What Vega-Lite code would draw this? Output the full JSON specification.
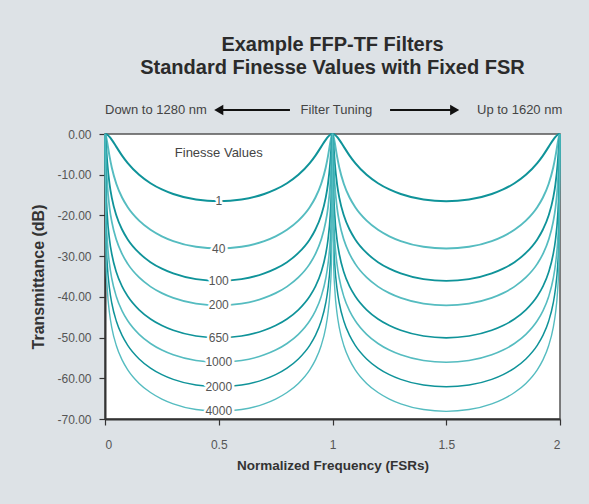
{
  "$schema": "https://vega.github.io/schema/vega-lite/v6.json",
  "width": 455,
  "height": 285,
  "autosize": {"type": "none"},
  "padding": {"left": 105, "top": 134, "right": 29, "bottom": 85},
  "background": "#dde2e6",
  "title": {
    "text": ["Example FFP-TF Filters", "Standard Finesse Values with Fixed FSR"],
    "font": "Liberation Sans",
    "fontSize": 20,
    "fontWeight": "bold",
    "color": "#2b2b2b",
    "lineHeight": 23,
    "anchor": "middle",
    "frame": "group",
    "offset": 26
  },
  "config": {
    "view": {"stroke": "#555", "strokeWidth": 1.5, "fill": "white"},
    "axis": {
      "grid": false,
      "domainColor": "#333",
      "domainWidth": 2,
      "tickColor": "#333",
      "tickWidth": 1.2,
      "tickSize": 6,
      "labelFont": "Liberation Sans",
      "labelFontSize": 12,
      "labelColor": "#555",
      "titleFont": "Liberation Sans",
      "titleFontWeight": "bold",
      "titleColor": "#333"
    },
    "axisX": {"labelPadding": 14, "titleFontSize": 13.5, "titlePadding": 8},
    "axisY": {"labelPadding": 8, "titleFontSize": 16, "titlePadding": 10}
  },
  "layer": [
    {
      "data": {"values": [
{"c":"1","x":0,"y":0},{"c":"1","x":0.005,"y":-0.05},{"c":"1","x":0.01,"y":-0.19},{"c":"1","x":0.02,"y":-0.7},{"c":"1","x":0.03,"y":-1.43},{"c":"1","x":0.05,"y":-3.17},{"c":"1","x":0.075,"y":-5.31},{"c":"1","x":0.1,"y":-7.16},{"c":"1","x":0.15,"y":-10.03},{"c":"1","x":0.2,"y":-12.1},{"c":"1","x":0.25,"y":-13.62},{"c":"1","x":0.3,"y":-14.74},{"c":"1","x":0.4,"y":-16.11},{"c":"1","x":0.5,"y":-16.53},{"c":"1","x":0.6,"y":-16.11},{"c":"1","x":0.7,"y":-14.74},{"c":"1","x":0.75,"y":-13.62},{"c":"1","x":0.8,"y":-12.1},{"c":"1","x":0.85,"y":-10.03},{"c":"1","x":0.9,"y":-7.16},{"c":"1","x":0.925,"y":-5.31},{"c":"1","x":0.95,"y":-3.17},{"c":"1","x":0.97,"y":-1.43},{"c":"1","x":0.98,"y":-0.7},{"c":"1","x":0.99,"y":-0.19},{"c":"1","x":0.995,"y":-0.05},{"c":"1","x":1,"y":0},{"c":"1","x":1.005,"y":-0.05},{"c":"1","x":1.01,"y":-0.19},{"c":"1","x":1.02,"y":-0.7},{"c":"1","x":1.03,"y":-1.43},{"c":"1","x":1.05,"y":-3.17},{"c":"1","x":1.075,"y":-5.31},{"c":"1","x":1.1,"y":-7.16},{"c":"1","x":1.15,"y":-10.03},{"c":"1","x":1.2,"y":-12.1},{"c":"1","x":1.25,"y":-13.62},{"c":"1","x":1.3,"y":-14.74},{"c":"1","x":1.4,"y":-16.11},{"c":"1","x":1.5,"y":-16.53},{"c":"1","x":1.6,"y":-16.11},{"c":"1","x":1.7,"y":-14.74},{"c":"1","x":1.75,"y":-13.62},{"c":"1","x":1.8,"y":-12.1},{"c":"1","x":1.85,"y":-10.03},{"c":"1","x":1.9,"y":-7.16},{"c":"1","x":1.925,"y":-5.31},{"c":"1","x":1.95,"y":-3.17},{"c":"1","x":1.97,"y":-1.43},{"c":"1","x":1.98,"y":-0.7},{"c":"1","x":1.99,"y":-0.19},{"c":"1","x":1.995,"y":-0.05},{"c":"1","x":2,"y":0},
{"c":"40","x":0,"y":0},{"c":"40","x":0.005,"y":-0.65},{"c":"40","x":0.01,"y":-2.15},{"c":"40","x":0.02,"y":-5.51},{"c":"40","x":0.03,"y":-8.29},{"c":"40","x":0.05,"y":-12.27},{"c":"40","x":0.075,"y":-15.6},{"c":"40","x":0.1,"y":-17.99},{"c":"40","x":0.15,"y":-21.29},{"c":"40","x":0.2,"y":-23.52},{"c":"40","x":0.25,"y":-25.12},{"c":"40","x":0.3,"y":-26.29},{"c":"40","x":0.4,"y":-27.69},{"c":"40","x":0.5,"y":-28.13},{"c":"40","x":0.6,"y":-27.69},{"c":"40","x":0.7,"y":-26.29},{"c":"40","x":0.75,"y":-25.12},{"c":"40","x":0.8,"y":-23.52},{"c":"40","x":0.85,"y":-21.29},{"c":"40","x":0.9,"y":-17.99},{"c":"40","x":0.925,"y":-15.6},{"c":"40","x":0.95,"y":-12.27},{"c":"40","x":0.97,"y":-8.29},{"c":"40","x":0.98,"y":-5.51},{"c":"40","x":0.99,"y":-2.15},{"c":"40","x":0.995,"y":-0.65},{"c":"40","x":1,"y":0},{"c":"40","x":1.005,"y":-0.65},{"c":"40","x":1.01,"y":-2.15},{"c":"40","x":1.02,"y":-5.51},{"c":"40","x":1.03,"y":-8.29},{"c":"40","x":1.05,"y":-12.27},{"c":"40","x":1.075,"y":-15.6},{"c":"40","x":1.1,"y":-17.99},{"c":"40","x":1.15,"y":-21.29},{"c":"40","x":1.2,"y":-23.52},{"c":"40","x":1.25,"y":-25.12},{"c":"40","x":1.3,"y":-26.29},{"c":"40","x":1.4,"y":-27.69},{"c":"40","x":1.5,"y":-28.13},{"c":"40","x":1.6,"y":-27.69},{"c":"40","x":1.7,"y":-26.29},{"c":"40","x":1.75,"y":-25.12},{"c":"40","x":1.8,"y":-23.52},{"c":"40","x":1.85,"y":-21.29},{"c":"40","x":1.9,"y":-17.99},{"c":"40","x":1.925,"y":-15.6},{"c":"40","x":1.95,"y":-12.27},{"c":"40","x":1.97,"y":-8.29},{"c":"40","x":1.98,"y":-5.51},{"c":"40","x":1.99,"y":-2.15},{"c":"40","x":1.995,"y":-0.65},{"c":"40","x":2,"y":0},
{"c":"100","x":0,"y":0},{"c":"100","x":0.005,"y":-3.01},{"c":"100","x":0.01,"y":-6.99},{"c":"100","x":0.02,"y":-12.3},{"c":"100","x":0.03,"y":-15.67},{"c":"100","x":0.05,"y":-20.01},{"c":"100","x":0.075,"y":-23.46},{"c":"100","x":0.1,"y":-25.89},{"c":"100","x":0.15,"y":-29.22},{"c":"100","x":0.2,"y":-31.47},{"c":"100","x":0.25,"y":-33.07},{"c":"100","x":0.3,"y":-34.24},{"c":"100","x":0.4,"y":-35.64},{"c":"100","x":0.5,"y":-36.08},{"c":"100","x":0.6,"y":-35.64},{"c":"100","x":0.7,"y":-34.24},{"c":"100","x":0.75,"y":-33.07},{"c":"100","x":0.8,"y":-31.47},{"c":"100","x":0.85,"y":-29.22},{"c":"100","x":0.9,"y":-25.89},{"c":"100","x":0.925,"y":-23.46},{"c":"100","x":0.95,"y":-20.01},{"c":"100","x":0.97,"y":-15.67},{"c":"100","x":0.98,"y":-12.3},{"c":"100","x":0.99,"y":-6.99},{"c":"100","x":0.995,"y":-3.01},{"c":"100","x":1,"y":0},{"c":"100","x":1.005,"y":-3.01},{"c":"100","x":1.01,"y":-6.99},{"c":"100","x":1.02,"y":-12.3},{"c":"100","x":1.03,"y":-15.67},{"c":"100","x":1.05,"y":-20.01},{"c":"100","x":1.075,"y":-23.46},{"c":"100","x":1.1,"y":-25.89},{"c":"100","x":1.15,"y":-29.22},{"c":"100","x":1.2,"y":-31.47},{"c":"100","x":1.25,"y":-33.07},{"c":"100","x":1.3,"y":-34.24},{"c":"100","x":1.4,"y":-35.64},{"c":"100","x":1.5,"y":-36.08},{"c":"100","x":1.6,"y":-35.64},{"c":"100","x":1.7,"y":-34.24},{"c":"100","x":1.75,"y":-33.07},{"c":"100","x":1.8,"y":-31.47},{"c":"100","x":1.85,"y":-29.22},{"c":"100","x":1.9,"y":-25.89},{"c":"100","x":1.925,"y":-23.46},{"c":"100","x":1.95,"y":-20.01},{"c":"100","x":1.97,"y":-15.67},{"c":"100","x":1.98,"y":-12.3},{"c":"100","x":1.99,"y":-6.99},{"c":"100","x":1.995,"y":-3.01},{"c":"100","x":2,"y":0},
{"c":"200","x":0,"y":0},{"c":"200","x":0.005,"y":-6.99},{"c":"200","x":0.01,"y":-12.3},{"c":"200","x":0.02,"y":-18.12},{"c":"200","x":0.03,"y":-21.6},{"c":"200","x":0.05,"y":-26},{"c":"200","x":0.075,"y":-29.47},{"c":"200","x":0.1,"y":-31.9},{"c":"200","x":0.15,"y":-35.24},{"c":"200","x":0.2,"y":-37.48},{"c":"200","x":0.25,"y":-39.09},{"c":"200","x":0.3,"y":-40.26},{"c":"200","x":0.4,"y":-41.66},{"c":"200","x":0.5,"y":-42.1},{"c":"200","x":0.6,"y":-41.66},{"c":"200","x":0.7,"y":-40.26},{"c":"200","x":0.75,"y":-39.09},{"c":"200","x":0.8,"y":-37.48},{"c":"200","x":0.85,"y":-35.24},{"c":"200","x":0.9,"y":-31.9},{"c":"200","x":0.925,"y":-29.47},{"c":"200","x":0.95,"y":-26},{"c":"200","x":0.97,"y":-21.6},{"c":"200","x":0.98,"y":-18.12},{"c":"200","x":0.99,"y":-12.3},{"c":"200","x":0.995,"y":-6.99},{"c":"200","x":1,"y":0},{"c":"200","x":1.005,"y":-6.99},{"c":"200","x":1.01,"y":-12.3},{"c":"200","x":1.02,"y":-18.12},{"c":"200","x":1.03,"y":-21.6},{"c":"200","x":1.05,"y":-26},{"c":"200","x":1.075,"y":-29.47},{"c":"200","x":1.1,"y":-31.9},{"c":"200","x":1.15,"y":-35.24},{"c":"200","x":1.2,"y":-37.48},{"c":"200","x":1.25,"y":-39.09},{"c":"200","x":1.3,"y":-40.26},{"c":"200","x":1.4,"y":-41.66},{"c":"200","x":1.5,"y":-42.1},{"c":"200","x":1.6,"y":-41.66},{"c":"200","x":1.7,"y":-40.26},{"c":"200","x":1.75,"y":-39.09},{"c":"200","x":1.8,"y":-37.48},{"c":"200","x":1.85,"y":-35.24},{"c":"200","x":1.9,"y":-31.9},{"c":"200","x":1.925,"y":-29.47},{"c":"200","x":1.95,"y":-26},{"c":"200","x":1.97,"y":-21.6},{"c":"200","x":1.98,"y":-18.12},{"c":"200","x":1.99,"y":-12.3},{"c":"200","x":1.995,"y":-6.99},{"c":"200","x":2,"y":0},
{"c":"650","x":0,"y":0},{"c":"650","x":0.005,"y":-14.15},{"c":"650","x":0.01,"y":-20.04},{"c":"650","x":0.02,"y":-26.03},{"c":"650","x":0.03,"y":-29.53},{"c":"650","x":0.05,"y":-33.95},{"c":"650","x":0.075,"y":-37.42},{"c":"650","x":0.1,"y":-39.86},{"c":"650","x":0.15,"y":-43.2},{"c":"650","x":0.2,"y":-45.44},{"c":"650","x":0.25,"y":-47.05},{"c":"650","x":0.3,"y":-48.22},{"c":"650","x":0.4,"y":-49.62},{"c":"650","x":0.5,"y":-50.06},{"c":"650","x":0.6,"y":-49.62},{"c":"650","x":0.7,"y":-48.22},{"c":"650","x":0.75,"y":-47.05},{"c":"650","x":0.8,"y":-45.44},{"c":"650","x":0.85,"y":-43.2},{"c":"650","x":0.9,"y":-39.86},{"c":"650","x":0.925,"y":-37.42},{"c":"650","x":0.95,"y":-33.95},{"c":"650","x":0.97,"y":-29.53},{"c":"650","x":0.98,"y":-26.03},{"c":"650","x":0.99,"y":-20.04},{"c":"650","x":0.995,"y":-14.15},{"c":"650","x":1,"y":0},{"c":"650","x":1.005,"y":-14.15},{"c":"650","x":1.01,"y":-20.04},{"c":"650","x":1.02,"y":-26.03},{"c":"650","x":1.03,"y":-29.53},{"c":"650","x":1.05,"y":-33.95},{"c":"650","x":1.075,"y":-37.42},{"c":"650","x":1.1,"y":-39.86},{"c":"650","x":1.15,"y":-43.2},{"c":"650","x":1.2,"y":-45.44},{"c":"650","x":1.25,"y":-47.05},{"c":"650","x":1.3,"y":-48.22},{"c":"650","x":1.4,"y":-49.62},{"c":"650","x":1.5,"y":-50.06},{"c":"650","x":1.6,"y":-49.62},{"c":"650","x":1.7,"y":-48.22},{"c":"650","x":1.75,"y":-47.05},{"c":"650","x":1.8,"y":-45.44},{"c":"650","x":1.85,"y":-43.2},{"c":"650","x":1.9,"y":-39.86},{"c":"650","x":1.925,"y":-37.42},{"c":"650","x":1.95,"y":-33.95},{"c":"650","x":1.97,"y":-29.53},{"c":"650","x":1.98,"y":-26.03},{"c":"650","x":1.99,"y":-20.04},{"c":"650","x":1.995,"y":-14.15},{"c":"650","x":2,"y":0},
{"c":"1000","x":0,"y":0},{"c":"1000","x":0.005,"y":-20.04},{"c":"1000","x":0.01,"y":-26.03},{"c":"1000","x":0.02,"y":-32.04},{"c":"1000","x":0.03,"y":-35.55},{"c":"1000","x":0.05,"y":-39.97},{"c":"1000","x":0.075,"y":-43.44},{"c":"1000","x":0.1,"y":-45.88},{"c":"1000","x":0.15,"y":-49.22},{"c":"1000","x":0.2,"y":-51.46},{"c":"1000","x":0.25,"y":-53.07},{"c":"1000","x":0.3,"y":-54.24},{"c":"1000","x":0.4,"y":-55.64},{"c":"1000","x":0.5,"y":-56.08},{"c":"1000","x":0.6,"y":-55.64},{"c":"1000","x":0.7,"y":-54.24},{"c":"1000","x":0.75,"y":-53.07},{"c":"1000","x":0.8,"y":-51.46},{"c":"1000","x":0.85,"y":-49.22},{"c":"1000","x":0.9,"y":-45.88},{"c":"1000","x":0.925,"y":-43.44},{"c":"1000","x":0.95,"y":-39.97},{"c":"1000","x":0.97,"y":-35.55},{"c":"1000","x":0.98,"y":-32.04},{"c":"1000","x":0.99,"y":-26.03},{"c":"1000","x":0.995,"y":-20.04},{"c":"1000","x":1,"y":0},{"c":"1000","x":1.005,"y":-20.04},{"c":"1000","x":1.01,"y":-26.03},{"c":"1000","x":1.02,"y":-32.04},{"c":"1000","x":1.03,"y":-35.55},{"c":"1000","x":1.05,"y":-39.97},{"c":"1000","x":1.075,"y":-43.44},{"c":"1000","x":1.1,"y":-45.88},{"c":"1000","x":1.15,"y":-49.22},{"c":"1000","x":1.2,"y":-51.46},{"c":"1000","x":1.25,"y":-53.07},{"c":"1000","x":1.3,"y":-54.24},{"c":"1000","x":1.4,"y":-55.64},{"c":"1000","x":1.5,"y":-56.08},{"c":"1000","x":1.6,"y":-55.64},{"c":"1000","x":1.7,"y":-54.24},{"c":"1000","x":1.75,"y":-53.07},{"c":"1000","x":1.8,"y":-51.46},{"c":"1000","x":1.85,"y":-49.22},{"c":"1000","x":1.9,"y":-45.88},{"c":"1000","x":1.925,"y":-43.44},{"c":"1000","x":1.95,"y":-39.97},{"c":"1000","x":1.97,"y":-35.55},{"c":"1000","x":1.98,"y":-32.04},{"c":"1000","x":1.99,"y":-26.03},{"c":"1000","x":1.995,"y":-20.04},{"c":"1000","x":2,"y":0},
{"c":"2000","x":0,"y":0},{"c":"2000","x":0.005,"y":-26.03},{"c":"2000","x":0.01,"y":-32.04},{"c":"2000","x":0.02,"y":-38.06},{"c":"2000","x":0.03,"y":-41.57},{"c":"2000","x":0.05,"y":-45.99},{"c":"2000","x":0.075,"y":-49.46},{"c":"2000","x":0.1,"y":-51.9},{"c":"2000","x":0.15,"y":-55.24},{"c":"2000","x":0.2,"y":-57.48},{"c":"2000","x":0.25,"y":-59.09},{"c":"2000","x":0.3,"y":-60.26},{"c":"2000","x":0.4,"y":-61.66},{"c":"2000","x":0.5,"y":-62.1},{"c":"2000","x":0.6,"y":-61.66},{"c":"2000","x":0.7,"y":-60.26},{"c":"2000","x":0.75,"y":-59.09},{"c":"2000","x":0.8,"y":-57.48},{"c":"2000","x":0.85,"y":-55.24},{"c":"2000","x":0.9,"y":-51.9},{"c":"2000","x":0.925,"y":-49.46},{"c":"2000","x":0.95,"y":-45.99},{"c":"2000","x":0.97,"y":-41.57},{"c":"2000","x":0.98,"y":-38.06},{"c":"2000","x":0.99,"y":-32.04},{"c":"2000","x":0.995,"y":-26.03},{"c":"2000","x":1,"y":0},{"c":"2000","x":1.005,"y":-26.03},{"c":"2000","x":1.01,"y":-32.04},{"c":"2000","x":1.02,"y":-38.06},{"c":"2000","x":1.03,"y":-41.57},{"c":"2000","x":1.05,"y":-45.99},{"c":"2000","x":1.075,"y":-49.46},{"c":"2000","x":1.1,"y":-51.9},{"c":"2000","x":1.15,"y":-55.24},{"c":"2000","x":1.2,"y":-57.48},{"c":"2000","x":1.25,"y":-59.09},{"c":"2000","x":1.3,"y":-60.26},{"c":"2000","x":1.4,"y":-61.66},{"c":"2000","x":1.5,"y":-62.1},{"c":"2000","x":1.6,"y":-61.66},{"c":"2000","x":1.7,"y":-60.26},{"c":"2000","x":1.75,"y":-59.09},{"c":"2000","x":1.8,"y":-57.48},{"c":"2000","x":1.85,"y":-55.24},{"c":"2000","x":1.9,"y":-51.9},{"c":"2000","x":1.925,"y":-49.46},{"c":"2000","x":1.95,"y":-45.99},{"c":"2000","x":1.97,"y":-41.57},{"c":"2000","x":1.98,"y":-38.06},{"c":"2000","x":1.99,"y":-32.04},{"c":"2000","x":1.995,"y":-26.03},{"c":"2000","x":2,"y":0},
{"c":"4000","x":0,"y":0},{"c":"4000","x":0.005,"y":-32.04},{"c":"4000","x":0.01,"y":-38.06},{"c":"4000","x":0.02,"y":-44.08},{"c":"4000","x":0.03,"y":-47.59},{"c":"4000","x":0.05,"y":-52.01},{"c":"4000","x":0.075,"y":-55.48},{"c":"4000","x":0.1,"y":-57.92},{"c":"4000","x":0.15,"y":-61.26},{"c":"4000","x":0.2,"y":-63.5},{"c":"4000","x":0.25,"y":-65.11},{"c":"4000","x":0.3,"y":-66.28},{"c":"4000","x":0.4,"y":-67.68},{"c":"4000","x":0.5,"y":-68.12},{"c":"4000","x":0.6,"y":-67.68},{"c":"4000","x":0.7,"y":-66.28},{"c":"4000","x":0.75,"y":-65.11},{"c":"4000","x":0.8,"y":-63.5},{"c":"4000","x":0.85,"y":-61.26},{"c":"4000","x":0.9,"y":-57.92},{"c":"4000","x":0.925,"y":-55.48},{"c":"4000","x":0.95,"y":-52.01},{"c":"4000","x":0.97,"y":-47.59},{"c":"4000","x":0.98,"y":-44.08},{"c":"4000","x":0.99,"y":-38.06},{"c":"4000","x":0.995,"y":-32.04},{"c":"4000","x":1,"y":0},{"c":"4000","x":1.005,"y":-32.04},{"c":"4000","x":1.01,"y":-38.06},{"c":"4000","x":1.02,"y":-44.08},{"c":"4000","x":1.03,"y":-47.59},{"c":"4000","x":1.05,"y":-52.01},{"c":"4000","x":1.075,"y":-55.48},{"c":"4000","x":1.1,"y":-57.92},{"c":"4000","x":1.15,"y":-61.26},{"c":"4000","x":1.2,"y":-63.5},{"c":"4000","x":1.25,"y":-65.11},{"c":"4000","x":1.3,"y":-66.28},{"c":"4000","x":1.4,"y":-67.68},{"c":"4000","x":1.5,"y":-68.12},{"c":"4000","x":1.6,"y":-67.68},{"c":"4000","x":1.7,"y":-66.28},{"c":"4000","x":1.75,"y":-65.11},{"c":"4000","x":1.8,"y":-63.5},{"c":"4000","x":1.85,"y":-61.26},{"c":"4000","x":1.9,"y":-57.92},{"c":"4000","x":1.925,"y":-55.48},{"c":"4000","x":1.95,"y":-52.01},{"c":"4000","x":1.97,"y":-47.59},{"c":"4000","x":1.98,"y":-44.08},{"c":"4000","x":1.99,"y":-38.06},{"c":"4000","x":1.995,"y":-32.04},{"c":"4000","x":2,"y":0}
      ]},
      "mark": {"type": "line", "interpolate": "monotone"},
      "encoding": {
        "x": {
          "field": "x", "type": "quantitative",
          "scale": {"domain": [0, 2], "nice": false, "zero": false},
          "axis": {"values": [0, 0.5, 1, 1.5, 2], "format": ".2~f", "title": "Normalized Frequency (FSRs)"}
        },
        "y": {
          "field": "y", "type": "quantitative",
          "scale": {"domain": [-70, 0], "nice": false},
          "axis": {"values": [0, -10, -20, -30, -40, -50, -60, -70], "format": ".2f", "labelExpr": "replace(datum.label, '\u2212', '-')", "title": "Transmittance (dB)"}
        },
        "detail": {"field": "c"},
        "color": {
          "field": "c", "type": "nominal", "legend": null,
          "scale": {"domain": ["1", "40", "100", "200", "650", "1000", "2000", "4000"],
                    "range": ["#0f9399", "#55bcc0", "#0f9399", "#55bcc0", "#0f9399", "#55bcc0", "#0f9399", "#55bcc0"]}
        },
        "strokeWidth": {
          "field": "c", "type": "nominal", "legend": null,
          "scale": {"domain": ["1", "40", "100", "200", "650", "1000", "2000", "4000"],
                    "range": [2, 1.4, 2, 1.4, 2, 1.4, 2, 1.4]}
        }
      }
    },
    {
      "data": {"values": [
        {"c": "1", "y": -16.53}, {"c": "40", "y": -28.13}, {"c": "100", "y": -36.08}, {"c": "200", "y": -42.1},
        {"c": "650", "y": -50.06}, {"c": "1000", "y": -56.08}, {"c": "2000", "y": -62.1}, {"c": "4000", "y": -68.12}
      ]},
      "layer": [
        {
          "mark": {"type": "text", "font": "Liberation Sans", "fontSize": 12, "stroke": "white", "strokeWidth": 5, "strokeJoin": "round", "fill": "white", "baseline": "middle"},
          "encoding": {"x": {"datum": 0.5, "type": "quantitative"}, "y": {"field": "y", "type": "quantitative"}, "text": {"field": "c"}}
        },
        {
          "mark": {"type": "text", "font": "Liberation Sans", "fontSize": 12, "fill": "#555", "baseline": "middle"},
          "encoding": {"x": {"datum": 0.5, "type": "quantitative"}, "y": {"field": "y", "type": "quantitative"}, "text": {"field": "c"}}
        }
      ]
    },
    {
      "data": {"values": [{"t": "Finesse Values"}]},
      "mark": {"type": "text", "font": "Liberation Sans", "fontSize": 13, "fill": "#444", "baseline": "middle"},
      "encoding": {"x": {"datum": 0.5, "type": "quantitative"}, "y": {"datum": -4.7, "type": "quantitative"}, "text": {"field": "t"}}
    },
    {
      "data": {"values": [{"t": "Down to 1280 nm"}]},
      "mark": {"type": "text", "font": "Liberation Sans", "fontSize": 13, "fill": "#444", "align": "left", "baseline": "middle"},
      "encoding": {"x": {"datum": 0, "type": "quantitative"}, "y": {"datum": 5.9, "type": "quantitative"}, "text": {"field": "t"}}
    },
    {
      "data": {"values": [{"t": "Filter Tuning"}]},
      "mark": {"type": "text", "font": "Liberation Sans", "fontSize": 13, "fill": "#444", "align": "center", "baseline": "middle"},
      "encoding": {"x": {"datum": 1.017, "type": "quantitative"}, "y": {"datum": 5.9, "type": "quantitative"}, "text": {"field": "t"}}
    },
    {
      "data": {"values": [{"t": "Up to 1620 nm"}]},
      "mark": {"type": "text", "font": "Liberation Sans", "fontSize": 13, "fill": "#444", "align": "right", "baseline": "middle"},
      "encoding": {"x": {"datum": 2.01, "type": "quantitative"}, "y": {"datum": 5.9, "type": "quantitative"}, "text": {"field": "t"}}
    },
    {
      "data": {"values": [{"side": "left"}]},
      "mark": {"type": "rule", "color": "#111", "strokeWidth": 2},
      "encoding": {"x": {"datum": 0.5, "type": "quantitative"}, "x2": {"datum": 0.813}, "y": {"datum": 5.9, "type": "quantitative"}}
    },
    {
      "data": {"values": [{"side": "right"}]},
      "mark": {"type": "rule", "color": "#111", "strokeWidth": 2},
      "encoding": {"x": {"datum": 1.253, "type": "quantitative"}, "x2": {"datum": 1.54}, "y": {"datum": 5.9, "type": "quantitative"}}
    },
    {
      "data": {"values": [{"side": "left"}]},
      "mark": {"type": "point", "shape": "triangle-left", "filled": true, "color": "#111", "size": 110, "opacity": 1},
      "encoding": {"x": {"datum": 0.5, "type": "quantitative"}, "y": {"datum": 5.9, "type": "quantitative"}}
    },
    {
      "data": {"values": [{"side": "right"}]},
      "mark": {"type": "point", "shape": "triangle-right", "filled": true, "color": "#111", "size": 110, "opacity": 1},
      "encoding": {"x": {"datum": 1.537, "type": "quantitative"}, "y": {"datum": 5.9, "type": "quantitative"}}
    }
  ]
}
